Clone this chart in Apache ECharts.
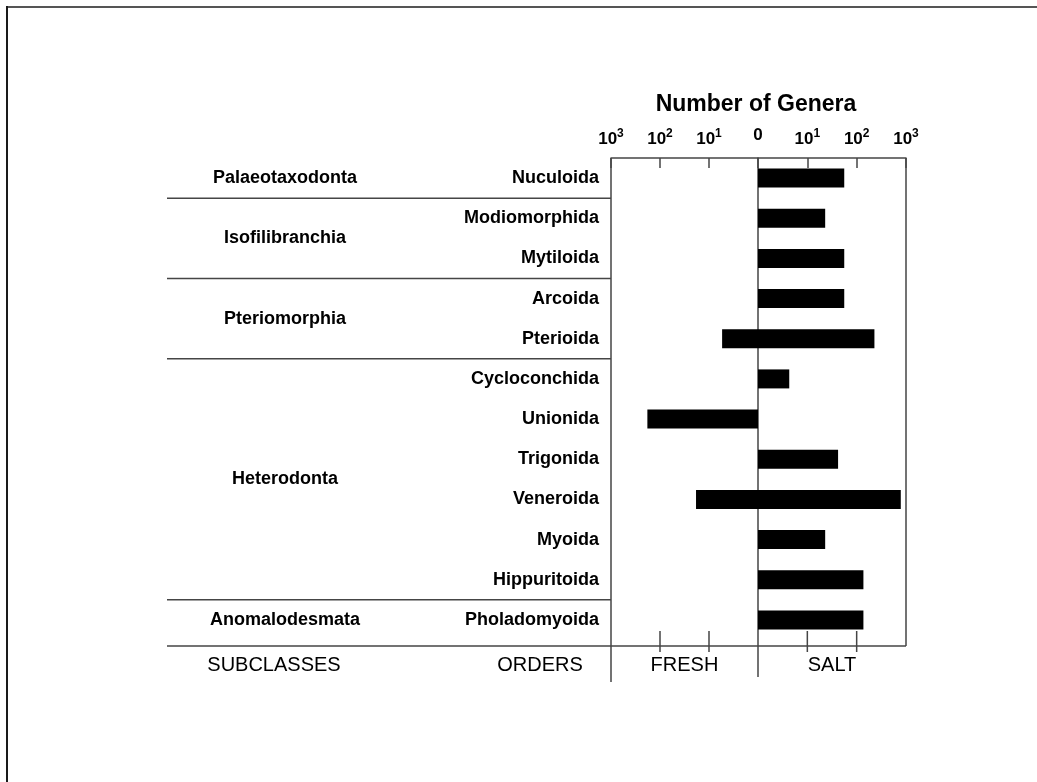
<!DOCTYPE html>
<html>
<head>
<meta charset="utf-8">
<script src="https://cdn.jsdelivr.net/npm/echarts@6/dist/echarts.min.js"></script>
<style>
  html, body { margin: 0; padding: 0; background: #fff; }
  #chart { width: 1037px; height: 782px; }
</style>
</head>
<body>
<div id="chart"></div>
<script>
// Bivalve orders and their number of genera in salt and fresh water
const orders = ['Nuculoida', 'Modiomorphida', 'Mytiloida', 'Arcoida', 'Pterioida', 'Cycloconchida',
                'Unionida', 'Trigonida', 'Veneroida', 'Myoida', 'Hippuritoida', 'Pholadomyoida'];
const saltGenera  = [56, 23, 56, 56, 229, 4.3, null, 42, 784, 23, 137, 137];
const freshGenera = [null, null, null, null, 5.4, null, 181, null, 18.4, null, null, null];

// Subclasses, each spanning a run of consecutive orders
const subclasses = ['Palaeotaxodonta', 'Isofilibranchia', 'Pteriomorphia', 'Heterodonta', 'Anomalodesmata'];
const subclassOrderCounts = [1, 2, 2, 6, 1];

const axisTitle = 'Number of Genera';
const footLabels = ['SUBCLASSES', 'ORDERS', 'FRESH', 'SALT'];

const FONT = '"Liberation Sans", Arial, sans-serif';
const LINE = '#454545';

const chart = echarts.init(document.getElementById('chart'), null, { renderer: 'canvas' });

function expLabel(v, showOne) {
  const n = Math.round(Math.log10(v));
  if (n === 0) return showOne ? '{z|0}' : '';
  return '{b|10}{s|' + n + '}';
}
const labelRich = {
  b: { fontSize: 17, fontWeight: 'bold', fontFamily: FONT, color: '#000', lineHeight: 26 },
  s: { fontSize: 12, fontWeight: 'bold', fontFamily: FONT, color: '#000', verticalAlign: 'top', padding: [2, 0, 0, 0], lineHeight: 14 },
  z: { fontSize: 17, fontWeight: 'bold', fontFamily: FONT, color: '#000', lineHeight: 17, padding: [0, 0, 16, 0] }
};

const gridTop = 158, gridHeight = 482;
const xAxisCommon = {
  type: 'log', logBase: 10, min: 1, max: 1000,
  position: 'top',
  axisLine: { show: true, lineStyle: { color: LINE, width: 1.5 } },
  axisTick: { show: true, inside: true, length: 10, lineStyle: { color: LINE, width: 1.5 } },
  splitLine: { show: false },
  minorTick: { show: false },
  axisLabel: { show: true, margin: 6, showMinLabel: true, showMaxLabel: true, rich: labelRich }
};

const option = {
  animation: false,
  backgroundColor: '#fff',
  grid: [
    { left: 611, top: gridTop, width: 147, height: gridHeight, outerBoundsMode: 'none', containLabel: false },
    { left: 758, top: gridTop, width: 148, height: gridHeight, outerBoundsMode: 'none', containLabel: false }
  ],
  xAxis: [
    Object.assign({}, xAxisCommon, { gridIndex: 0, inverse: true,
      axisLabel: Object.assign({}, xAxisCommon.axisLabel, { formatter: v => expLabel(v, false) }) }),
    Object.assign({}, xAxisCommon, { gridIndex: 1,
      axisLabel: Object.assign({}, xAxisCommon.axisLabel, { formatter: v => expLabel(v, true) }) })
  ],
  yAxis: [
    { type: 'category', gridIndex: 0, data: orders, inverse: true,
      axisLine: { show: false, onZero: false }, axisTick: { show: false },
      axisLabel: { show: true, margin: 12, color: '#000', fontSize: 18, fontWeight: 'bold', fontFamily: FONT } },
    { type: 'category', gridIndex: 1, data: orders, inverse: true,
      axisLine: { show: false, onZero: false }, axisTick: { show: false }, axisLabel: { show: false } }
  ],
  series: [
    { name: 'FRESH', type: 'bar', xAxisIndex: 0, yAxisIndex: 0, data: freshGenera,
      barWidth: 19, itemStyle: { color: '#000' } },
    { name: 'SALT', type: 'bar', xAxisIndex: 1, yAxisIndex: 1, data: saltGenera,
      barWidth: 19, itemStyle: { color: '#000' } }
  ]
};
chart.setOption(option);

// Frame, separators and side labels placed through the axes' own pixel mapping
const px = (axis, v) => chart.convertToPixel({ xAxisIndex: axis }, v);
const py = i => chart.convertToPixel({ yAxisIndex: 0 }, i);

const xLeft = px(0, 1000), xZero = px(1, 1), xRight = px(1, 1000);
const baseY = gridTop + gridHeight + 6;
const sepLeft = 167;

const line = (x1, y1, x2, y2, w, c) => ({
  type: 'line', silent: true,
  shape: { x1, y1, x2, y2 },
  style: { stroke: c || LINE, lineWidth: w || 1.5 }
});
const text = (str, x, y, size, weight, align) => ({
  type: 'text', silent: true, x, y,
  style: { text: str, fill: '#000', fontSize: size, fontWeight: weight, fontFamily: FONT,
           textAlign: align || 'center', textVerticalAlign: 'middle' }
});

const g = [];
// outer frame
g.push(line(6, 7, 1037, 7, 2, '#555'));
g.push(line(7, 6, 7, 782, 2, '#1a1a1a'));
// plot box and zero line
g.push(line(xLeft, gridTop, xLeft, baseY + 36));
g.push(line(xRight, gridTop, xRight, baseY));
g.push(line(xZero, gridTop, xZero, baseY + 31));
g.push(line(sepLeft, baseY, xRight, baseY));
// bottom ticks
[10, 100].forEach(v => {
  [0, 1].forEach(a => {
    const x = px(a, v);
    g.push(line(x, baseY - 15, x, baseY + 6));
  });
});
// subclass separators and labels
let start = 0;
subclasses.forEach((name, k) => {
  const end = start + subclassOrderCounts[k] - 1;
  const yMid = (py(start) + py(end)) / 2;
  g.push(text(name, 285, yMid, 18, 'bold'));
  if (end < orders.length - 1) {
    const ySep = (py(end) + py(end + 1)) / 2;
    g.push(line(sepLeft, ySep, xLeft, ySep));
  }
  start = end + 1;
});
// titles
g.push(text(axisTitle, 756, 105, 23, 'bold'));
const footX = [274, 540, (xLeft + xZero) / 2, (xZero + xRight) / 2];
footLabels.forEach((s, i) => g.push(text(s, footX[i], baseY + 19, 20, 'normal')));

chart.setOption({ graphic: { elements: g } });
</script>
</body>
</html>
